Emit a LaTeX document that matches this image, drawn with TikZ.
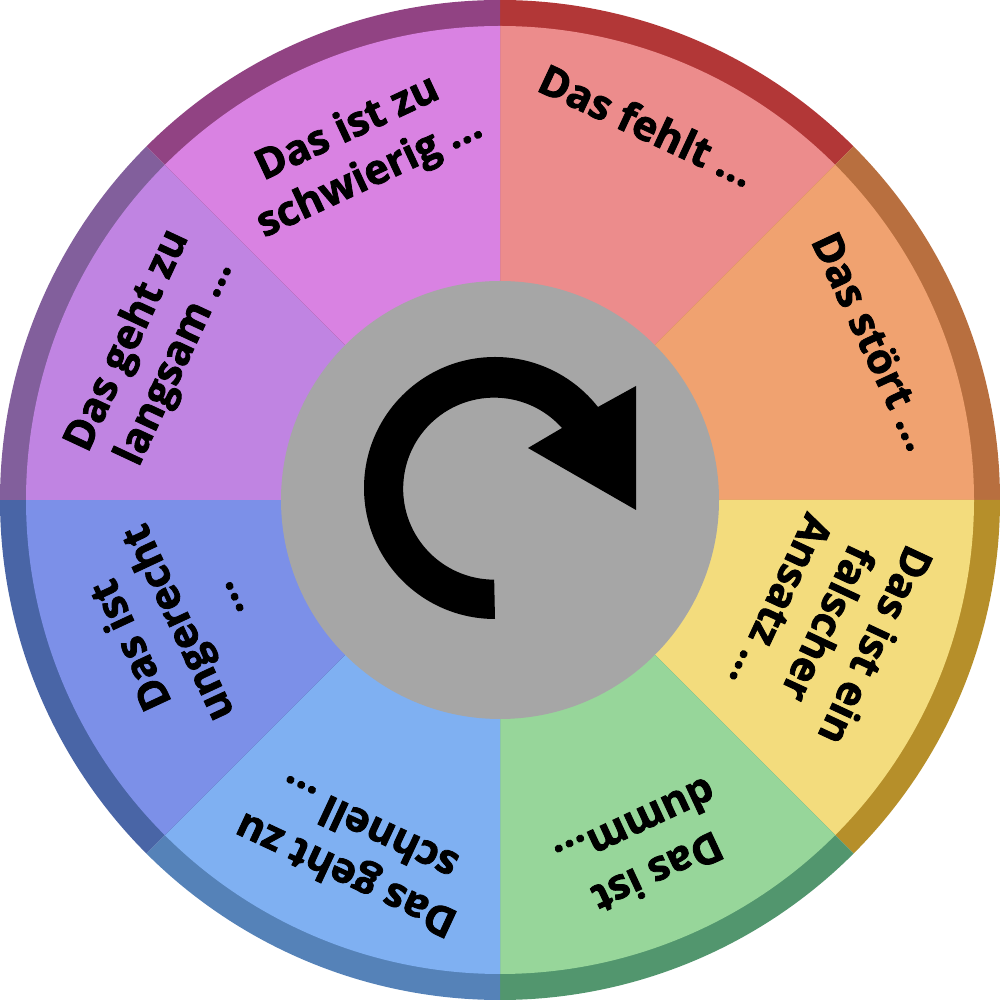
\documentclass[tikz,border=0pt]{standalone}
\usepackage{fontspec}
\setmainfont{Open Sans}[BoldFeatures={FakeBold=1.9}]
\tikzset{
  lab/.style={font=\bfseries\fontsize{11.8pt}{14.8pt}\selectfont,align=center,text=black,inner sep=0pt},
}
\definecolor{f1}{HTML}{EC8C8C}\definecolor{r1}{HTML}{B23737}
\definecolor{f2}{HTML}{F0A270}\definecolor{r2}{HTML}{B86F3F}
\definecolor{f3}{HTML}{F3DC7D}\definecolor{r3}{HTML}{B68F2A}
\definecolor{f4}{HTML}{97D69A}\definecolor{r4}{HTML}{52966E}
\definecolor{f5}{HTML}{7FB0F2}\definecolor{r5}{HTML}{5582B8}
\definecolor{f6}{HTML}{7C90E8}\definecolor{r6}{HTML}{4965A6}
\definecolor{f7}{HTML}{C084E2}\definecolor{r7}{HTML}{825F9C}
\definecolor{f8}{HTML}{D982E2}\definecolor{r8}{HTML}{914383}
\definecolor{hub}{HTML}{A6A6A6}
\begin{document}
\begin{tikzpicture}[x=0.01cm,y=0.01cm]
\useasboundingbox (0,0) rectangle (1000,1000);
\coordinate (c) at (500,500);
\foreach \i/\a in {1/90,2/45,3/0,4/-45,5/-90,6/-135,7/-180,8/-225}{
  \pgfmathsetmacro{\b}{\a-45}
  \fill[r\i] (c) -- ++(\a:500) arc[start angle=\a,end angle=\b,radius=500] -- cycle;
  \fill[f\i] (c) -- ++(\a:474) arc[start angle=\a,end angle=\b,radius=474] -- cycle;
}
\fill[hub] (c) circle[radius=219];
\fill[black] (495,381) arc[start angle=270,end angle=38.2,radius=131]
  -- (636,614) -- (636,490) -- (528,552) -- (562,572)
  arc[start angle=41.8,end angle=270,radius=91] -- cycle;
\node[lab,rotate=-25] (n1) at (647,875) {Das fehlt ...};
\node[lab,rotate=-65] (n2) at (874,659) {Das stört ...};
\node[lab,rotate=-115] (n3) at (829,376) {Das ist ein\\falscher\\Ansatz ...};
\node[lab,rotate=-155] (n4) at (647,150) {Das ist\\dumm...};
\node[lab,rotate=155] (n5) at (356,147) {Das geht zu\\schnell ...};
\node[lab,rotate=115] (n6) at (176,376) {Das ist\\ungerecht\\...};
\node[lab,rotate=65] (n7) at (152,648) {Das geht zu\\langsam ...};
\node[lab,rotate=25] (n8) at (359,847) {Das ist zu\\schwierig ...};
\end{tikzpicture}
\end{document}
